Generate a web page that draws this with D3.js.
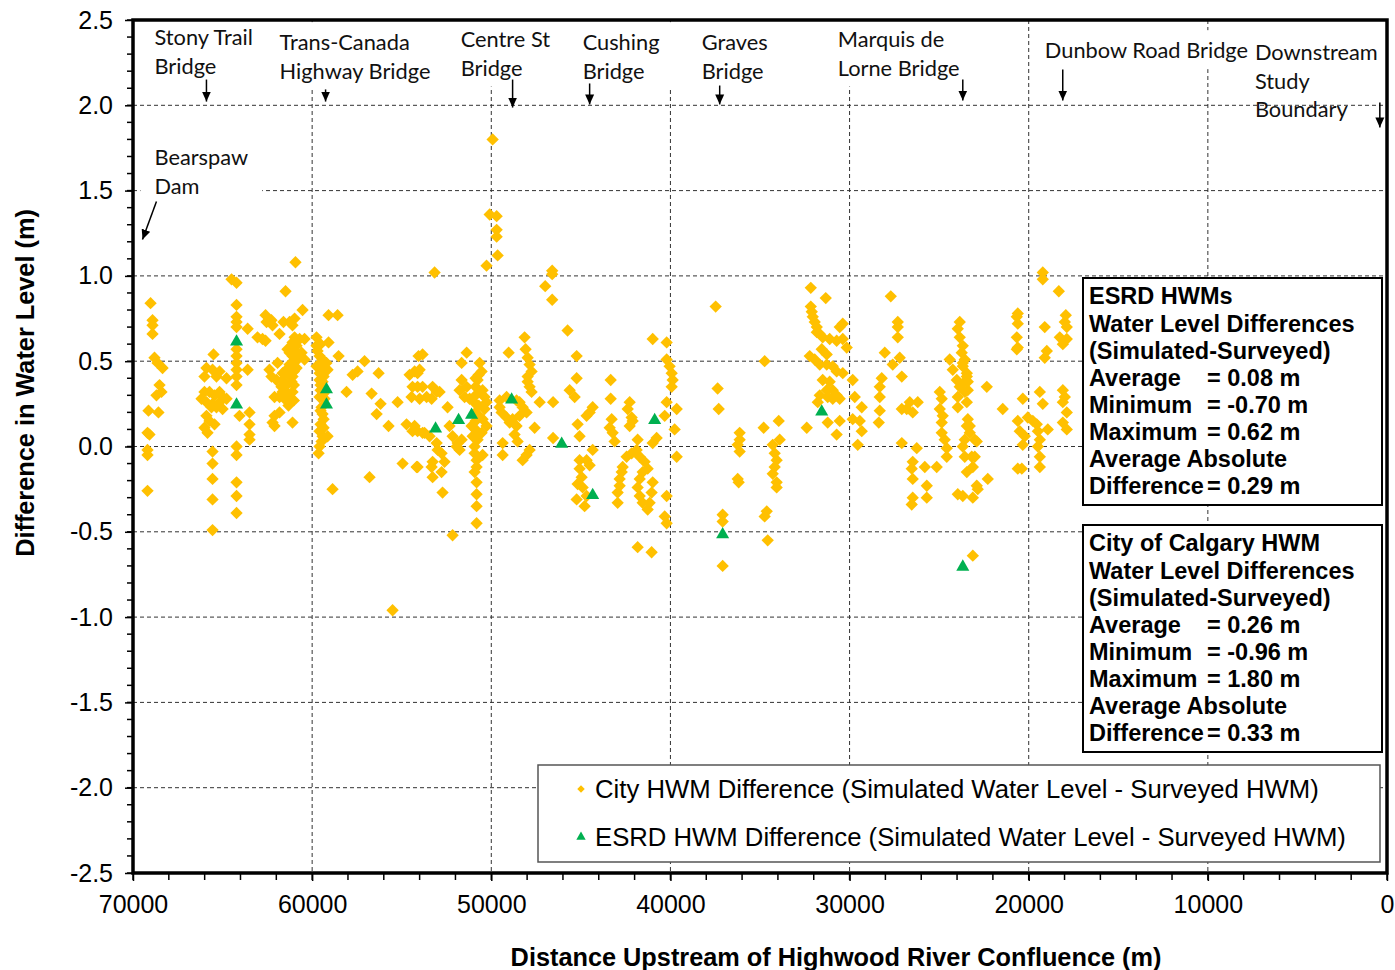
<!DOCTYPE html>
<html>
<head>
<meta charset="utf-8">
<script src="https://cdn.jsdelivr.net/npm/d3@7"></script>
<style>
  body { margin: 0; background: #fff; }
  .tick text { font-family: "Liberation Sans", Arial, sans-serif; font-size: 25px; fill: #000; }
  .tick line { stroke: #000; stroke-width: 1.5; }
  .note { font-family: Lato, "Open Sans", sans-serif; font-size: 21.8px; fill: #111; }
  .stat { font-family: "Liberation Sans", Arial, sans-serif; font-size: 23.5px; font-weight: bold; fill: #000; }
  .legend-text { font-family: "Liberation Sans", Arial, sans-serif; font-size: 25.7px; fill: #000; }
  .axis-title { font-family: "Liberation Sans", Arial, sans-serif; font-size: 25.3px; font-weight: bold; fill: #000; }
</style>
</head>
<body>
<script>
// distance upstream (m) -> list of simulated - surveyed differences (m), City of Calgary HWMs
var cityCols = [
  [69190,[0.08,-0.02,-0.05,-0.26]], [69135,[0.21]], [69080,[0.07]], [69020,[0.84]],
  [68910,[0.74,0.71,0.66]], [68800,[0.52]], [68690,[0.30]], [68630,[0.49]], [68580,[0.20]],
  [68520,[0.36]], [68410,[0.32]], [68350,[0.46]],
  [66175,[0.28]], [66010,[0.41,0.32,0.11]], [65900,[0.46,0.26,0.18]], [65840,[0.08]],
  [65730,[0.32,0.15]], [65620,[0.23]], [65560,[0.45,0.25,-0.03,-0.10,-0.19,-0.31,-0.49]],
  [65505,[0.54]], [65450,[0.30,0.13]], [65340,[0.41,0.23]], [65170,[0.44,0.32,0.26]],
  [65000,[0.29,0.22]], [64780,[0.40,0.28]], [64500,[0.98]],
  [64220,[0.96,0.83,0.76,0.73,0.70,0.57,0.53,0.49,0.45,0.41,0.36,0.00,-0.05,-0.21,-0.29,-0.39]],
  [64055,[0.18]], [63600,[0.69,0.45]], [63495,[0.20,0.13,0.07,0.04]],
  [63050,[0.64]], [62770,[0.63]], [62600,[0.77,0.62]], [62545,[0.73]], [62380,[0.45]],
  [62270,[0.74,0.41]], [62210,[0.71,0.14]], [62100,[0.29,0.18,0.12]], [61990,[0.39]],
  [61930,[0.49]], [61820,[0.66,0.29,0.20]], [61710,[0.35]], [61650,[0.43,0.39,0.32]],
  [61600,[0.73]], [61540,[0.28]], [61485,[0.91]], [61430,[0.45,0.36,0.32]], [61375,[0.57]],
  [61320,[0.42,0.30,0.24]], [61260,[0.73,0.55,0.48]], [61150,[0.58,0.38]],
  [61095,[0.71,0.61,0.53,0.47,0.41,0.32,0.14]], [61020,[0.50,0.44,0.36,0.27]],
  [60980,[0.75,0.64,0.56]], [60930,[1.08]], [60870,[0.59,0.46]], [60815,[0.51]],
  [60700,[0.63]], [60590,[0.55]], [60535,[0.80]], [60425,[0.63,0.51]],
  [59755,[0.64,0.59,0.47]], [59700,[0.56]], [59640,[-0.04]],
  [59585,[0.53,0.48,0.43,0.39,0.29,0.09,0.00]], [59530,[0.60,0.36,0.33,0.21,0.13]],
  [59475,[0.23,0.03]], [59420,[0.51,0.44,0.38,0.19,0.06]], [59360,[0.41,0.31,0.16,0.11]],
  [59310,[0.46,0.28]], [59200,[0.49]],
  [59140,[0.45,0.06]], [59085,[0.77,0.61]], [58860,[-0.25]], [58580,[0.77]], [58525,[0.53]],
  [58080,[0.32]], [57740,[0.42]], [57465,[0.44]], [57075,[0.50]], [56795,[-0.18]],
  [56680,[0.31]], [56400,[0.19]], [56290,[0.43]], [56180,[0.25]], [55735,[0.12]],
  [55510,[-0.96]], [55230,[0.26]], [54950,[-0.10]], [54730,[0.13]], [54560,[0.42]],
  [54450,[0.29]], [54395,[0.35,0.09]], [54280,[0.12,0.44]], [54170,[-0.12]],
  [54115,[0.43,0.35,0.09,-0.12]], [54060,[0.53]], [54000,[0.45,0.28]],
  [53835,[0.54,0.35,0.08]], [53725,[0.08]], [53610,[0.29]], [53445,[0.06]],
  [53330,[0.28,-0.12]], [53275,[0.35,-0.18,-0.09]], [53165,[1.02]], [53050,[0.32,0.02]],
  [52995,[-0.02]], [52885,[0.32]], [52775,[-0.04,-0.15]], [52720,[-0.27]], [52610,[-0.09]],
  [52440,[0.23]], [52330,[0.12]], [52160,[0.06,-0.52]], [51935,[0.00]], [51880,[0.02]],
  [51770,[0.33,-0.02]], [51655,[0.49,0.39,0.04]], [51490,[0.29]], [51375,[0.55,0.35]],
  [51210,[0.28]], [51100,[0.12]], [51040,[0.06]], [50930,[-0.15,0.00,-0.04]],
  [50875,[0.40,0.35,0.30,0.25,0.20,0.15,0.10,0.05]],
  [50820,[-0.08,-0.12,-0.21,-0.28,-0.35,-0.45]], [50765,[0.39,0.04]], [50700,[0.42,0.24,0.18]],
  [50650,[0.49,0.32]], [50540,[0.44,0.08]], [50485,[0.33,0.16,-0.05]], [50375,[0.29,0.22]],
  [50265,[1.06,0.26,0.12]], [50090,[1.36]], [49925,[1.80]], [49700,[1.35,1.27,1.23]],
  [49645,[1.12]],
  [49535,[0.27,0.23]], [49425,[0.20]], [49365,[0.02,-0.05]], [49145,[0.29,0.17]],
  [49030,[0.55]], [48975,[0.14]], [48810,[0.16]], [48700,[0.07]], [48590,[0.27,0.12]],
  [48530,[0.03]], [48420,[0.26,0.18]], [48250,[0.23,-0.08]], [48140,[0.64]], [48085,[0.57]],
  [48030,[0.20,-0.05]], [47970,[0.52,0.41,0.38]], [47860,[0.48,0.35,-0.02]],
  [47750,[0.44,0.32]], [47580,[0.11]], [47300,[0.26]], [46990,[0.94]],
  [46600,[1.03,1.01,0.86]], [46550,[0.26,0.05]],
  [45740,[0.68]], [45625,[0.33]], [45345,[0.29]], [45235,[0.53,0.40,-0.31]],
  [45180,[0.13,-0.22]], [45070,[0.06,-0.08,-0.13]], [44955,[-0.18]], [44900,[-0.24]],
  [44790,[-0.35]], [44680,[0.18,-0.08,-0.29]], [44510,[0.20,-0.11]], [44340,[0.23,-0.02]],
  [43390,[0.11]], [43335,[0.39,0.28]], [43280,[0.16]], [43225,[0.08]], [43115,[0.03]],
  [42945,[-0.27,-0.33]], [42835,[-0.19,-0.23]], [42720,[-0.15]], [42665,[-0.12]],
  [42445,[-0.06]], [42385,[0.22]], [42275,[0.26,0.12]], [42165,[0.17,-0.04]], [42110,[0.15]],
  [41885,[-0.02]], [41830,[0.04,-0.24,-0.59]], [41715,[-0.06,-0.19,-0.29]],
  [41550,[-0.15,-0.33]], [41440,[-0.09]], [41270,[-0.13,-0.37]], [41160,[-0.33]],
  [41050,[-0.27,-0.62]], [40990,[0.63,0.02,-0.21]], [40770,[0.05]], [40320,[0.18,-0.41]],
  [40210,[0.61,0.51,0.26,-0.29,-0.45]], [40045,[0.47]], [39930,[0.43,0.35]], [39875,[0.39]],
  [39765,[0.10]], [39650,[0.22,-0.06]],
  [37475,[0.82]], [37365,[0.34]], [37305,[0.22]], [37085,[-0.40,-0.44,-0.70]],
  [36245,[0.01,-0.19]], [36190,[-0.21]], [36135,[0.08,0.04,-0.03]], [34795,[0.11]],
  [34740,[0.50,-0.41]], [34625,[-0.38]], [34570,[-0.55]], [34290,[0.01,-0.16]],
  [34180,[-0.04,-0.12]], [34070,[-0.08,-0.21,-0.24]], [33955,[0.15]], [33900,[0.04]],
  [32390,[0.11]], [32225,[0.53]], [32165,[0.93,0.82]], [32110,[0.79]], [32055,[0.76]],
  [31945,[0.73,0.51]], [31830,[0.70,0.67]], [31775,[0.26]], [31665,[0.66,0.48,0.30]],
  [31555,[0.57]], [31500,[0.64,0.39]], [31330,[0.87]], [31275,[0.54,0.48,0.33]],
  [31220,[0.29,0.14]], [31110,[0.63,0.38]], [30940,[0.47,0.33,0.28]],
  [30720,[0.62,0.44,0.30,0.07]], [30550,[0.70,0.28,0.15]], [30380,[0.72,0.63,0.43]],
  [30160,[0.58]], [29825,[0.39,0.16]], [29710,[0.29]], [29545,[0.01]], [29430,[0.15]],
  [29320,[0.23,0.09]],
  [28370,[0.14]], [28315,[0.35,0.29,0.21]], [28205,[0.40]], [28035,[0.55]], [27700,[0.88]],
  [27590,[0.48]], [27310,[0.73,0.70,0.64]], [27200,[0.52]], [27085,[0.41,0.22,0.02]],
  [26810,[0.22]], [26640,[0.26]], [26530,[-0.13,-0.34]], [26475,[0.20,-0.09,-0.19,-0.30]],
  [26250,[-0.01]], [26195,[0.26]], [25800,[-0.12]], [25690,[-0.23,-0.30]], [25135,[-0.12]],
  [24965,[0.32,0.22]], [24855,[0.28,0.14,0.08]], [24800,[0.18]], [24690,[0.04]],
  [24575,[-0.01,-0.06]], [24410,[0.51]], [24240,[0.45]], [24015,[0.39]],
  [23960,[0.69,0.29,0.23,-0.28]], [23850,[0.73,0.64,0.35]], [23740,[0.55]],
  [23680,[0.59,0.49,0.47,0.00,-0.29]], [23570,[0.51,0.38,0.32,0.04,-0.06]],
  [23455,[0.43,0.41,0.26,0.12,-0.15]], [23400,[0.38,0.33,0.16]], [23290,[0.12,0.08]],
  [23180,[-0.06]], [23120,[-0.12,-0.30,-0.64]], [23010,[0.04,-0.06]], [22900,[0.03,-0.23]],
  [22845,[-0.25]], [22340,[0.35]], [22285,[-0.19]],
  [21450,[0.22]], [20665,[0.76,0.64,0.57]], [20610,[0.78,0.72,0.58,0.15,-0.13]],
  [20500,[0.09]], [20385,[-0.13]], [20330,[0.28,0.01]], [20220,[0.06]], [20050,[0.17]],
  [19770,[0.15]], [19550,[0.13]], [19490,[0.09,0.00]], [19380,[0.32,0.04,-0.06,-0.12]],
  [19215,[1.02,0.98,0.25]], [19105,[0.70,0.52]], [18990,[0.56]], [18935,[0.10]],
  [18320,[0.91]], [18265,[0.64]], [18095,[0.60,0.33,0.26,0.14]], [17985,[0.73,0.29]],
  [17930,[0.77]], [17875,[0.70,0.63,0.20,0.10]]
];

// ESRD HWMs: [distance, difference]
var esrdPoints = [
  [64220,0.62], [64220,0.25], [59200,0.34], [59200,0.25], [53110,0.11], [51825,0.16],
  [51100,0.19], [48865,0.28], [46070,0.02], [44340,-0.28], [40880,0.16], [37085,-0.51],
  [31555,0.21], [23680,-0.70]
];

var xTicks = [70000, 60000, 50000, 40000, 30000, 20000, 10000, 0];
var yTicks = [-2.5, -2.0, -1.5, -1.0, -0.5, 0.0, 0.5, 1.0, 1.5, 2.0, 2.5];

// bridge / landmark notes: text position and arrow (data units)
var notes = [
  { lines: ["Stony Trail", "Bridge"], x: 68800, y: 2.397, arrow: [65900, 2.151, 65900, 2.022], mask: false },
  { lines: ["Trans-Canada", "Highway Bridge"], x: 61820, y: 2.368, arrow: [59250, 2.093, 59250, 2.022], mask: true },
  { lines: ["Centre St", "Bridge"], x: 51710, y: 2.386, arrow: [48810, 2.151, 48810, 1.987], mask: true },
  { lines: ["Cushing", "Bridge"], x: 44900, y: 2.368, arrow: [44510, 2.128, 44510, 2.005], mask: true },
  { lines: ["Graves", "Bridge"], x: 38255, y: 2.368, arrow: [37250, 2.116, 37250, 2.005], mask: true },
  { lines: ["Marquis de", "Lorne Bridge"], x: 30660, y: 2.386, arrow: [23680, 2.151, 23680, 2.028], mask: true },
  { lines: ["Dunbow Road Bridge"], x: 19100, y: 2.321, arrow: [18100, 2.21, 18100, 2.028], mask: true },
  { lines: ["Downstream", "Study", "Boundary"], x: 7375, y: 2.31, arrow: [400, 2.016, 400, 1.87], mask: false },
  { lines: ["Bearspaw", "Dam"], x: 68800, y: 1.694, arrow: [68690, 1.436, 69470, 1.213], mask: true }
];

var esrdStats = [["ESRD HWMs"], ["Water Level Differences"], ["(Simulated-Surveyed)"],
  ["Average", "= 0.08 m"], ["Minimum", "= -0.70 m"], ["Maximum", "= 0.62 m"],
  ["Average Absolute"], ["Difference", "= 0.29 m"]];
var cityStats = [["City of Calgary HWM"], ["Water Level Differences"], ["(Simulated-Surveyed)"],
  ["Average", "= 0.26 m"], ["Minimum", "= -0.96 m"], ["Maximum", "= 1.80 m"],
  ["Average Absolute"], ["Difference", "= 0.33 m"]];

var legendItems = ["City HWM Difference (Simulated Water Level - Surveyed HWM)",
  "ESRD HWM Difference (Simulated Water Level - Surveyed HWM)"];

var cityPoints = [];
cityCols.forEach(function(c) {
  c[1].forEach(function(v) { cityPoints.push([c[0], v]); });
});

var svgWidth = 1395, svgHeight = 970;
var margin = { top: 20, right: 8, bottom: 97, left: 133 };
var width = svgWidth - margin.left - margin.right;
var height = svgHeight - margin.top - margin.bottom;

var svg = d3.select("body").append("svg")
  .attr("width", svgWidth)
  .attr("height", svgHeight);

svg.append("defs").append("marker")
  .attr("id", "arrow")
  .attr("viewBox", "0 0 10 10")
  .attr("refX", 10).attr("refY", 5)
  .attr("markerWidth", 10).attr("markerHeight", 10)
  .attr("markerUnits", "userSpaceOnUse")
  .attr("orient", "auto")
  .append("path").attr("d", "M0,0.5 L10,5 L0,9.5 z").attr("fill", "#000");

var chart = svg.append("g").attr("transform", `translate(${margin.left}, ${margin.top})`);

var x = d3.scaleLinear().domain([70000, 0]).range([0, width]);
var y = d3.scaleLinear().domain([-2.5, 2.5]).range([height, 0]);

// gridlines
chart.append("g").selectAll("line")
  .data(yTicks.slice(1, -1))
  .enter().append("line")
  .attr("x1", 0).attr("x2", width)
  .attr("y1", d => y(d)).attr("y2", d => y(d))
  .attr("stroke", "#333").attr("stroke-width", 1).attr("stroke-dasharray", "4,3");

chart.append("g").selectAll("line")
  .data(xTicks.slice(1, -1))
  .enter().append("line")
  .attr("y1", 0).attr("y2", height)
  .attr("x1", d => x(d)).attr("x2", d => x(d))
  .attr("stroke", "#333").attr("stroke-width", 1).attr("stroke-dasharray", "4,3");

// notes
var noteG = chart.append("g");
notes.forEach(function(n) {
  var g = noteG.append("g");
  var t = g.append("text").attr("class", "note")
    .attr("x", x(n.x)).attr("y", y(n.y));
  n.lines.forEach(function(l, i) {
    t.append("tspan").attr("x", x(n.x)).attr("dy", i === 0 ? "0.35em" : 28.5).text(l);
  });
  if (n.mask) {
    var b = t.node().getBBox();
    g.insert("rect", "text")
      .attr("x", b.x - 14).attr("y", b.y - 6)
      .attr("width", b.width + 28).attr("height", b.height + 12)
      .attr("fill", "#fff");
  }
  g.append("line")
    .attr("x1", x(n.arrow[0])).attr("y1", y(n.arrow[1]))
    .attr("x2", x(n.arrow[2])).attr("y2", y(n.arrow[3]))
    .attr("stroke", "#000").attr("stroke-width", 1.5)
    .attr("marker-end", "url(#arrow)");
});

var diamond = d3.symbol().type(d3.symbolSquare).size(76);
var triangle = d3.symbol().type(d3.symbolTriangle).size(74);

chart.append("g").selectAll("path")
  .data(cityPoints)
  .enter().append("path")
  .attr("d", diamond)
  .attr("transform", d => `translate(${x(d[0])}, ${y(d[1])}) rotate(45)`)
  .attr("fill", "#FFC000");

chart.append("g").selectAll("path")
  .data(esrdPoints)
  .enter().append("path")
  .attr("d", triangle)
  .attr("transform", d => `translate(${x(d[0])}, ${y(d[1]) + 1})`)
  .attr("fill", "#00B050");

// statistics boxes
function statBox(rows, top) {
  var g = svg.append("g");
  g.append("rect")
    .attr("x", 1083).attr("y", top).attr("width", 299).attr("height", 227)
    .attr("fill", "#fff").attr("stroke", "#000").attr("stroke-width", 2);
  rows.forEach(function(r, i) {
    var yy = top + 18 + i * 27.1;
    g.append("text").attr("class", "stat")
      .attr("x", 1089).attr("y", yy).attr("dy", "0.36em").text(r[0]);
    if (r[1]) {
      g.append("text").attr("class", "stat")
        .attr("x", 1207).attr("y", yy).attr("dy", "0.36em").text(r[1]);
    }
  });
}
statBox(esrdStats, 278);
statBox(cityStats, 525);

// legend
var legend = svg.append("g");
legend.append("rect")
  .attr("x", 538).attr("y", 765).attr("width", 842).attr("height", 97)
  .attr("fill", "#fff").attr("stroke", "#555").attr("stroke-width", 1.5);
legend.append("path")
  .attr("d", d3.symbol().type(d3.symbolSquare).size(28))
  .attr("transform", "translate(581, 789) rotate(45)")
  .attr("fill", "#FFC000");
legend.append("path")
  .attr("d", d3.symbol().type(d3.symbolTriangle).size(38))
  .attr("transform", "translate(581, 837)")
  .attr("fill", "#00B050");
legendItems.forEach(function(t, i) {
  legend.append("text").attr("class", "legend-text")
    .attr("x", 595).attr("y", 789 + i * 48).attr("dy", "0.36em").text(t);
});

// axes
var yAxis = d3.axisLeft(y).tickValues(yTicks).tickSize(8).tickPadding(12)
  .tickFormat(d => d.toFixed(1));
var yAxisG = chart.append("g").call(yAxis);
yAxisG.select(".domain").remove();

var xAxis = d3.axisBottom(x).tickValues(xTicks).tickSize(8).tickPadding(14)
  .tickFormat(d => d);
var xAxisG = chart.append("g").attr("transform", `translate(0, ${height})`).call(xAxis);
xAxisG.select(".domain").remove();

// minor ticks
chart.append("g").selectAll("line")
  .data(d3.range(-25, 26).map(d => d / 10))
  .enter().append("line")
  .attr("x1", -6).attr("x2", 0)
  .attr("y1", d => y(d)).attr("y2", d => y(d))
  .attr("stroke", "#000").attr("stroke-width", 1.5);
chart.append("g").selectAll("line")
  .data(d3.range(0, 70001, 2000))
  .enter().append("line")
  .attr("y1", height).attr("y2", height + 7)
  .attr("x1", d => x(d)).attr("x2", d => x(d))
  .attr("stroke", "#000").attr("stroke-width", 1.5);

// plot frame
chart.append("rect")
  .attr("x", 0).attr("y", 0).attr("width", width).attr("height", height)
  .attr("fill", "none").attr("stroke", "#000").attr("stroke-width", 3.5);

// axis titles
svg.append("text").attr("class", "axis-title")
  .attr("text-anchor", "middle")
  .attr("transform", "translate(25, 383) rotate(-90)")
  .attr("dy", "0.36em")
  .text("Difference in Water Level (m)");

svg.append("text").attr("class", "axis-title")
  .attr("text-anchor", "middle")
  .attr("x", 836).attr("y", 957).attr("dy", "0.36em")
  .text("Distance Upstream of Highwood River Confluence (m)");
</script>
</body>
</html>
